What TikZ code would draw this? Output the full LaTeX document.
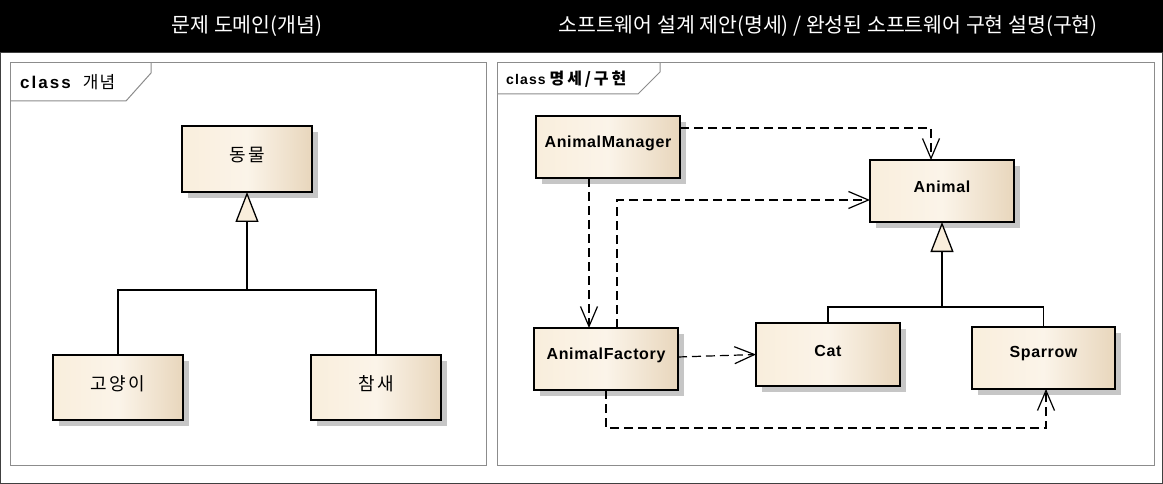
\documentclass[tikz,border=0pt]{standalone}
\usepackage{fontspec}
\setmainfont{Liberation Sans}
\newfontfamily\kr{Noto Sans CJK KR}
\newfontfamily\krsp{Noto Sans CJK KR}[LetterSpace=15]
\newfontfamily\krtab{Noto Sans CJK KR}[LetterSpace=6]
\newfontfamily\krwide{Noto Sans CJK KR}[LetterSpace=18]
\newfontfamily\lsp{Liberation Sans}[LetterSpace=4]
\newfontfamily\lsptab{Liberation Sans}[LetterSpace=12]
\newfontfamily\lsptabr{Liberation Sans}[LetterSpace=8]
\usetikzlibrary{arrows.meta,shadows}
\definecolor{boxL}{HTML}{F9EEDC}
\definecolor{boxM}{HTML}{FBF4E9}
\definecolor{boxR}{HTML}{E8D6BC}
\definecolor{shad}{HTML}{C6C6C6}
\definecolor{frm}{HTML}{8C8C8C}
\definecolor{outer}{HTML}{404040}
\tikzset{
  cls/.style={draw=black, line width=1.3pt, anchor=north west, inner sep=0pt, outer sep=0pt,
    left color=boxL, right color=boxR, middle color=boxM,
    drop shadow={shadow xshift=6pt, shadow yshift=-6pt, fill=shad, opacity=1, draw=none}},
  lbl/.style={font=\lsp\bfseries\fontsize{16}{19}\selectfont},
  krlbl/.style={font=\krsp\fontsize{18}{21}\selectfont},
  frame/.style={draw=frm, line width=1pt},
  dep/.style={line width=1.2pt, dash pattern=on 9pt off 5pt, -{Straight Barb[length=20pt,width=17pt]}},
  gen/.style={line width=1.3pt, -{Triangle[length=30pt,width=23pt,fill=boxL]}},
  genline/.style={line width=1.3pt},
  head/.style={text=white, font=\kr\fontsize{20.5}{24}\selectfont},
  tab/.style={anchor=west, inner sep=0pt}
}
\begin{document}
\begin{tikzpicture}[x=1pt,y=-1pt]
\useasboundingbox (0,0) rectangle (1163,484);
% header and outer frame
\fill[black] (0,0) rectangle (1163,52);
\draw[outer, line width=1pt] (0.5,52.5) rectangle (1162.5,483.5);
\node[head] (h1) at (247,26) {문제 도메인(개념)};
\node[head] (h2) at (828,26) {소프트웨어 설계 제안(명세) / 완성된 소프트웨어 구현 설명(구현)};
% left frame
\draw[frame] (10,63) rectangle (486,465);
\draw[frame] (10,101) -- (126,101) -- (151,73) -- (151,63);
\node[tab] (t1) at (20,82) {{\lsptab\bfseries\fontsize{17}{20}\selectfont class}\hspace{12pt}{\krtab\fontsize{17}{20}\selectfont 개념}};
% right frame
\draw[frame] (497,63) rectangle (1154,465);
\draw[frame] (497,94) -- (638,94) -- (660,72) -- (660,63);
\node[tab] (t2) at (506,79) {{\lsptabr\bfseries\fontsize{14}{17}\selectfont class}\hspace{4pt}{\krwide\bfseries\fontsize{16}{18}\selectfont 명세/구현}};
% left boxes
\node[cls, minimum width=130pt, minimum height=66pt] (dm) at (182,126) {};
\node[krlbl] at ([yshift=4pt]dm.center) {동물};
\node[cls, minimum width=130pt, minimum height=65pt] (go) at (53,355) {};
\node[krlbl] at ([yshift=4pt]go.center) {고양이};
\node[cls, minimum width=130pt, minimum height=65pt] (cs) at (311,355) {};
\node[krlbl] at ([yshift=4pt]cs.center) {참새};
\coordinate (jl) at (dm.south |- 0,290);
\draw[genline] (go.north) |- (jl) -| (cs.north);
\draw[gen] (jl) -- (dm.south);
% right boxes
\node[cls, minimum width=144pt, minimum height=62pt] (am) at (536,116) {};
\node[lbl] at ([yshift=4pt]am.center) {AnimalManager};
\node[cls, minimum width=144pt, minimum height=62pt] (an) at (870,160) {};
\node[lbl] at ([yshift=4pt]an.center) {Animal};
\node[cls, minimum width=144pt, minimum height=62pt] (af) at (534,328) {};
\node[lbl] at ([yshift=4pt]af.center) {AnimalFactory};
\node[cls, minimum width=144pt, minimum height=63pt] (cat) at (756,323) {};
\node[lbl] at ([yshift=4pt]cat.center) {Cat};
\node[cls, minimum width=143pt, minimum height=62pt] (sp) at (972,327) {};
\node[lbl] at ([yshift=4pt]sp.center) {Sparrow};
\coordinate (jr) at (an.south |- 0,307);
\draw[genline] (cat.north) |- (jr) -| (sp.north);
\draw[gen] (jr) -- (an.south);
% dependencies
\draw[dep] ([yshift=-12pt]am.north east) -| ([xshift=61pt]an.north west);
\draw[dep] ([xshift=53pt]am.south west) -- ([xshift=53pt]am.south west |- af.north);
\draw[dep] ([xshift=83pt]af.north west) |- ([yshift=-40pt]an.north west);
\draw[dep] ([yshift=2pt]af.east) -- (cat.west);
\draw[dep] ([xshift=72pt]af.south west) -- ++(0,38) -| ([xshift=74pt]sp.south west);
\end{tikzpicture}
\end{document}
